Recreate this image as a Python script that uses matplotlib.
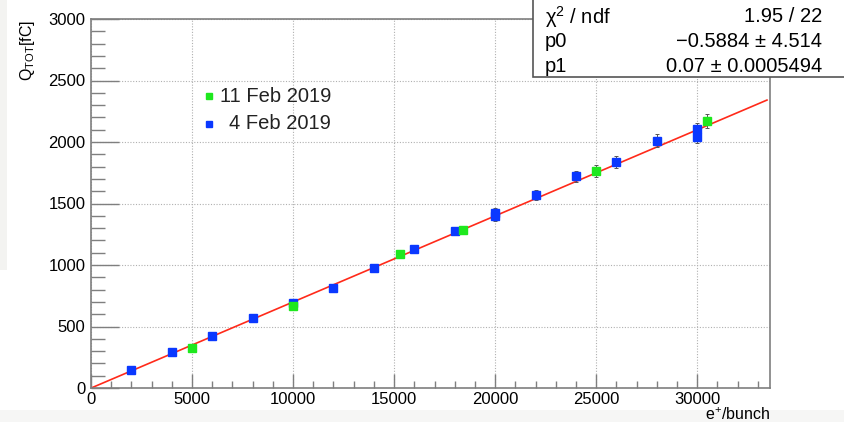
"""
Plot charge (Q_TOT) vs e+/bunch with linear fit, ROOT-like style
"""

#---------------------------------------------------------------------------------------------------
# Import Modules
#---------------------------------------------------------------------------------------------------

import matplotlib
matplotlib.use('Agg')
import matplotlib.pyplot as plt
from matplotlib.patches import Rectangle
from matplotlib.ticker import MultipleLocator
import numpy as np


#---------------------------------------------------------------------------------------------------
# Input Parameters
#---------------------------------------------------------------------------------------------------

# 4 Feb 2019 run (blue)
feb4_x = [2000, 4000, 6000, 8000, 10000, 12000, 14000, 16000, 18000, 20000, 20000,
          22000, 24000, 26000, 28000, 30000, 30000]
feb4_q = [145, 290, 420, 570, 690, 810, 975, 1130, 1275, 1425, 1395,
          1570, 1720, 1840, 2010, 2103, 2043]
feb4_err = [5, 8, 10, 14, 17, 20, 24, 28, 32, 40, 40,
            42, 45, 50, 52, 52, 50]

# 11 Feb 2019 run (green)
feb11_x = [5000, 10000, 15300, 18400, 25000, 30500]
feb11_q = [325, 665, 1090, 1287, 1765, 2170]
feb11_err = [8, 17, 27, 33, 50, 57]

# Fit parameters (pol1)
p0 = -0.5884
p1 = 0.07
fit_xmax = 33450

stats_rows = [('\u03c7$^2$ / ndf', '1.95 / 22'),
              ('p0', '\u22120.5884 \u00b1 4.514'),
              ('p1', '0.07 \u00b1 0.0005494')]

out_fname = 'out.png'


#---------------------------------------------------------------------------------------------------
# Make Plot
#---------------------------------------------------------------------------------------------------

plt.rcParams['font.family'] = ['Liberation Sans', 'DejaVu Sans']
plt.rcParams['mathtext.fontset'] = 'custom'
plt.rcParams['mathtext.rm'] = 'Liberation Sans'
plt.rcParams['mathtext.it'] = 'Liberation Sans:italic'

W, H = 845, 422
fig = plt.figure(figsize=(W/100, H/100), dpi=100)
ax = fig.add_axes([91/W, 1 - 388/H, (770 - 91)/W, (388 - 19)/H])

# light grey margins of the original canvas
fig.patches.append(Rectangle((0, 1 - 270/H), 7/W, 270/H, transform=fig.transFigure,
                             fc='#f3f3f1', ec='none', zorder=-5))
fig.patches.append(Rectangle((0, 0), 1, 12/H, transform=fig.transFigure,
                             fc='#f6f6f5', ec='none', zorder=-5))

gcol = '#7f7f7f'
blue = '#0a38ff'
green = '#1ee81e'

# Fit line
xf = np.array([0, fit_xmax])
ax.plot(xf, p0 + p1*xf, c='#ff2a1a', lw=1.2, zorder=2)

ax.errorbar(feb4_x, feb4_q, yerr=feb4_err, fmt='s', ms=6, mfc=blue, mec=blue,
            ecolor='#555555', elinewidth=0.7, capsize=1.5, capthick=0.7, zorder=3)
ax.errorbar(feb11_x, feb11_q, yerr=feb11_err, fmt='s', ms=6, mfc=green, mec=green,
            ecolor='#555555', elinewidth=0.7, capsize=1.5, capthick=0.7, zorder=3)

ax.set_xlim(0, 33600)
ax.set_ylim(0, 3000)
ax.xaxis.set_major_locator(MultipleLocator(5000))
ax.xaxis.set_minor_locator(MultipleLocator(1000))
ax.yaxis.set_major_locator(MultipleLocator(500))
ax.yaxis.set_minor_locator(MultipleLocator(100))
ax.tick_params(axis='x', which='major', direction='in', length=10, width=1, color=gcol,
               labelsize=12, pad=3, top=False)
ax.tick_params(axis='x', which='minor', direction='in', length=5, width=1, color=gcol, top=False)
ax.tick_params(axis='y', which='major', direction='in', length=20, width=1, color=gcol,
               labelsize=12, pad=4, right=False)
ax.tick_params(axis='y', which='minor', direction='in', length=10, width=1, color=gcol, right=False)
for s in ax.spines.values():
    s.set_color(gcol)
    s.set_linewidth(1.2)
ax.grid(True, which='major', ls=(0, (1, 1.5)), c='#b0b0b0', lw=0.8)
ax.set_axisbelow(True)

# Axis titles (ROOT style: at the end of the axes)
fig.text(28/W, 1 - 20/H, r'Q$_{\mathrm{TOT}}$[fC]', rotation=90, ha='center', va='top',
         fontsize=11.5)
fig.text(770/W, 1 - 415/H, r'e$^{+}$/bunch', ha='right', va='center', fontsize=11.5)

# Legend
for lbl, col, yy in [('11 Feb 2019', green, 96), ('4 Feb 2019', blue, 124)]:
    fig.lines.append(plt.Line2D([209/W], [1 - yy/H], transform=fig.transFigure, marker='s',
                                ms=5, mfc=col, mec=col, ls='none'))
    fig.text(331/W, 1 - yy/H, lbl, ha='right', va='center', fontsize=14.5, color='#222222')

# Stats box
fig.patches.append(Rectangle((533/W, 1 - 77/H), 0.5, 80/H, transform=fig.transFigure,
                             fc='white', ec='#555555', lw=1.2, zorder=5))
for i, (lab, val) in enumerate(stats_rows):
    yy = 1 - (17 + 24.5*i)/H
    fig.text(545/W, yy, lab, ha='left', va='center', fontsize=14.5, zorder=6)
    fig.text(822/W, yy, val, ha='right', va='center', fontsize=14.5, zorder=6)

plt.savefig(out_fname, dpi=100)
plt.close()
